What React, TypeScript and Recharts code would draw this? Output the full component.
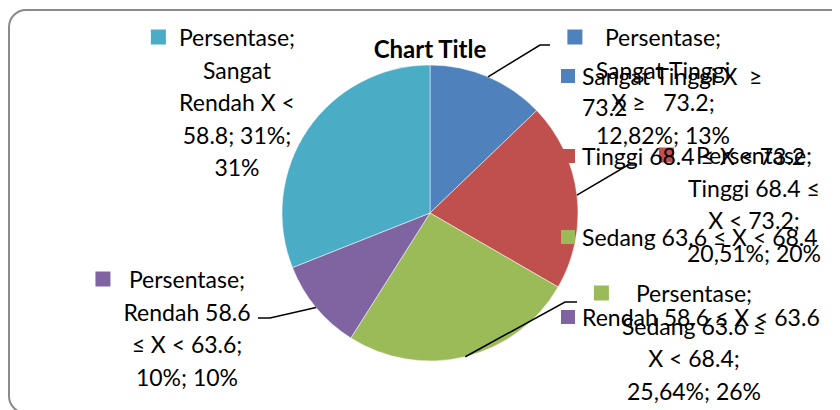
import React from 'react';
import { PieChart, Pie, Cell, Legend } from 'recharts';

// ---------- data ----------
const SERIES_NAME = 'Persentase';
const TITLE = 'Chart Title';
const CATEGORIES = [
  'Sangat Tinggi X ≥ 73.2',
  'Tinggi 68.4 ≤ X < 73.2',
  'Sedang 63.6 ≤ X < 68.4',
  'Rendah 58.6 ≤ X < 63.6',
  'Sangat Rendah X < 58.8',
];
const VALUES = [12.82, 20.51, 25.64, 10, 31];
const VALUE_TEXT = ['12,82%', '20,51%', '25,64%', '10%', '31%'];
const PERCENT_TEXT = ['13%', '20%', '26%', '10%', '31%'];
// wrapped data-label text (as drawn in the reference)
const LABEL_LINES = [
  [SERIES_NAME + ';', 'Sangat Tinggi', 'X ≥   73.2;', VALUE_TEXT[0] + '; ' + PERCENT_TEXT[0]],
  [SERIES_NAME + ';', 'Tinggi 68.4 ≤', 'X < 73.2;', VALUE_TEXT[1] + '; ' + PERCENT_TEXT[1]],
  [SERIES_NAME + ';', 'Sedang 63.6 ≤', 'X < 68.4;', VALUE_TEXT[2] + '; ' + PERCENT_TEXT[2]],
  [SERIES_NAME + ';', 'Rendah 58.6', '≤ X < 63.6;', VALUE_TEXT[3] + '; ' + PERCENT_TEXT[3]],
  [SERIES_NAME + ';', 'Sangat', 'Rendah X <', '58.8; ' + VALUE_TEXT[4] + ';', PERCENT_TEXT[4]],
];
const LEGEND_LINES = [
  ['Sangat Tinggi X  ≥', '73.2'],
  ['Tinggi 68.4 ≤ X < 73.2'],
  ['Sedang 63.6 ≤ X < 68.4'],
  ['Rendah 58.6 ≤ X < 63.6'],
  ['Sangat Rendah X < 58.8'],
];
const LEGEND_VISIBLE = 4;

// ---------- styles / layout ----------
const COLORS = ['#4F81BD', '#C0504D', '#9BBB59', '#8064A2', '#4BACC6'];
const FONT = 'Lato, "Open Sans", sans-serif';
const FS = 23;
const LINE_H = 32.5;
// label placement, offsets from the pie centre
const LABEL_LAYOUT: any[] = [
  { dx: 233, dy: -176, elbow: [110, -168], end: [120, -168] },
  { dx: 324, dy: -58, elbow: [198, -48], end: [206, -48] },
  { dx: 264, dy: 80, elbow: [135, 89], end: [147, 89] },
  { dx: -243, dy: 66, elbow: [-160, 105], end: [-172, 105] },
  { dx: -193, dy: -176, elbow: null, end: null },
];

const data = CATEGORIES.map((name, i) => ({ name, value: VALUES[i] }));

let ctx: any = null;
function textWidth(s: string) {
  if (!ctx) ctx = document.createElement('canvas').getContext('2d');
  ctx.font = `${FS}px Lato`;
  return ctx.measureText(s).width;
}

const RADIAN = Math.PI / 180;

function renderLabel(props: any) {
  const { cx, cy, midAngle, outerRadius, index } = props;
  const lay = LABEL_LAYOUT[index];
  const lines = LABEL_LINES[index];
  const x = cx + lay.dx;
  const y0 = cy + lay.dy;
  const maxW = Math.max(...lines.map(textWidth));
  const left = x - maxW / 2;
  const sx = cx + outerRadius * Math.cos(-midAngle * RADIAN);
  const sy = cy + outerRadius * Math.sin(-midAngle * RADIAN);
  return (
    <g key={`lbl-${index}`}>
      {lay.elbow && (
        <polyline
          points={`${sx},${sy} ${cx + lay.elbow[0]},${cy + lay.elbow[1]} ${cx + lay.end[0]},${cy + lay.end[1]}`}
          fill="none"
          stroke="#000"
          strokeWidth={1.5}
        />
      )}
      <rect x={left - 28} y={y0 - 7.5} width={15} height={15} fill={COLORS[index]} />
      {lines.map((ln, i) => (
        <text
          key={i}
          x={x}
          y={y0 + i * LINE_H}
          textAnchor="middle"
          dominantBaseline="central"
          fontSize={FS}
          fontFamily={FONT}
          fill="#000"
          style={{ whiteSpace: 'pre' }}
        >
          {ln}
        </text>
      ))}
    </g>
  );
}

function renderLegend() {
  return (
    <div style={{ position: 'relative', width: 284, height: 340, fontFamily: FONT, fontSize: FS, color: '#000' }}>
      {CATEGORIES.slice(0, LEGEND_VISIBLE).map((c, i) => (
        <div key={c} style={{ position: 'absolute', left: 0, top: i * 80.3, width: 284 }}>
          <div style={{ position: 'absolute', left: 5, top: 9, width: 14, height: 14, background: COLORS[i] }} />
          {LEGEND_LINES[i].map((ln, j) => (
            <div
              key={j}
              style={{ position: 'absolute', left: 26, top: j * 31, height: 32, lineHeight: '32px', whiteSpace: 'pre' }}
            >
              {ln}
            </div>
          ))}
        </div>
      ))}
    </div>
  );
}

export default function App() {
  return (
    <div style={{ position: 'relative', margin: '-8px 0 0 -8px', width: 840, height: 410, background: '#fff', overflow: 'hidden' }}>
      <div
        style={{
          position: 'absolute',
          left: 8,
          top: 9,
          width: 845,
          height: 405,
          border: '2px solid #8a8a8a',
          borderRadius: 18,
          boxSizing: 'border-box',
        }}
      />
      <PieChart width={840} height={410} margin={{ top: 0, right: 0, bottom: 0, left: 0 }}>
        <text
          x={430}
          y={48}
          textAnchor="middle"
          dominantBaseline="central"
          fontSize={24}
          fontWeight="bold"
          fontFamily={FONT}
          fill="#000"
        >
          {TITLE}
        </text>
        <Pie
          data={data}
          dataKey="value"
          nameKey="name"
          cx={430}
          cy={213}
          outerRadius={148}
          startAngle={90}
          endAngle={-270}
          stroke="#ffffff"
          strokeWidth={0.5}
          label={renderLabel}
          labelLine={false}
          isAnimationActive={false}
        >
          {data.map((d, i) => (
            <Cell key={d.name} fill={COLORS[i]} />
          ))}
        </Pie>
        <Legend
          layout="vertical"
          align="right"
          verticalAlign="middle"
          content={renderLegend}
          wrapperStyle={{ position: 'absolute', left: 556, top: 60, width: 284, height: 340 }}
        />
      </PieChart>
    </div>
  );
}
